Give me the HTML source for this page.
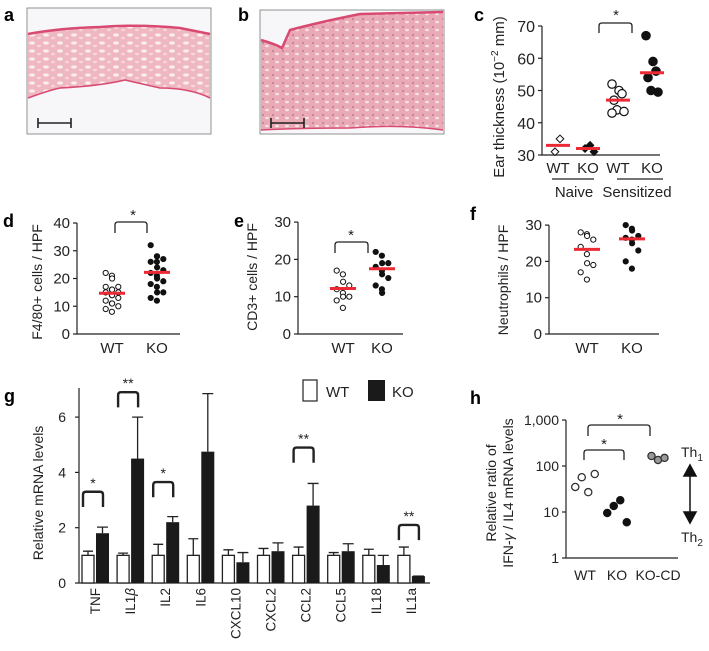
<!DOCTYPE html>
<html><head><meta charset="utf-8">
<style>
html,body{margin:0;padding:0;background:#fff;}
svg{display:block;font-family:"Liberation Sans",Arial,sans-serif;}
</style></head>
<body>
<svg id="fig" width="709" height="651" viewBox="0 0 709 651" xmlns="http://www.w3.org/2000/svg">
<defs>
<pattern id="pinktex" width="14" height="8" patternUnits="userSpaceOnUse">
<rect width="14" height="8" fill="#efb8c0"/>
<ellipse cx="4" cy="3" rx="3" ry="1.6" fill="#fbeef0"/>
<ellipse cx="11" cy="6" rx="2" ry="1.2" fill="#f6d6db"/>
</pattern>
<pattern id="pinktex2" width="10" height="8" patternUnits="userSpaceOnUse">
<rect width="10" height="8" fill="#e9aab6"/>
<circle cx="3" cy="3" r="1" fill="#b87a9a"/>
<ellipse cx="7" cy="6" rx="2" ry="1.2" fill="#f8e2e6"/>
</pattern>
</defs>

<!-- Panel a -->
<text x="4" y="21" font-size="18" font-weight="bold">a</text>
<g>
<rect x="27" y="8" width="184" height="126" fill="#f7f7f9" stroke="#777" stroke-width="0.8"/>
<path d="M28,34 Q60,28 100,27 Q140,24 180,28 L210,34 L210,98 Q190,88 160,88 L125,80 Q100,86 60,88 L28,98 Z" fill="url(#pinktex)"/>
<path d="M28,34 Q60,28 100,27 Q140,24 180,28 L210,34" fill="none" stroke="#d84a72" stroke-width="2.5"/>
<path d="M28,98 Q50,90 60,88 Q100,86 125,80 L160,88 Q190,88 210,98" fill="none" stroke="#d84a72" stroke-width="1.6"/>
<path d="M38,123 L71,123 M38,118 L38,128 M71,118 L71,128" stroke="#222" stroke-width="1.6"/>
</g>

<!-- Panel b -->
<text x="238" y="21" font-size="18" font-weight="bold">b</text>
<g>
<rect x="260" y="10" width="184" height="124" fill="#f7f7f9" stroke="#777" stroke-width="0.8"/>
<path d="M261,40 Q275,44 282,48 L290,30 Q320,22 360,14 L443,12 L443,130 Q400,124 350,128 L261,130 Z" fill="url(#pinktex2)"/>
<path d="M261,40 Q275,44 282,48 L290,30 Q320,22 360,14 L443,12" fill="none" stroke="#d84a72" stroke-width="2.5"/>
<path d="M261,130 Q300,128 350,128 Q400,124 443,130" fill="none" stroke="#d84a72" stroke-width="1.5"/>
<path d="M271,123 L304,123 M271,118 L271,128 M304,118 L304,128" stroke="#222" stroke-width="1.6"/>
</g>

<!-- Panel labels -->
<text x="474" y="21" font-size="18" font-weight="bold">c</text>
<text x="3" y="227" font-size="18" font-weight="bold">d</text>
<text x="234" y="227" font-size="18" font-weight="bold">e</text>
<text x="470" y="220" font-size="18" font-weight="bold">f</text>
<text x="4" y="402" font-size="18" font-weight="bold">g</text>
<text x="470" y="404" font-size="18" font-weight="bold">h</text>

<g id="gc"></g>
<g id="gd"></g>
<g id="ge"></g>
<g id="gf"></g>
<g id="gg"></g>
<g id="gh"></g>
</svg>

<script>
// ---------- data ----------
// panel c
const cCategories = ["WT","KO","WT","KO"];
const cNaiveWT = [35, 31];
const cNaiveKO = [33, 32, 31];
const cSensWT = [52, 50, 49, 47, 44, 43.5, 43];
const cSensKO = [67, 59, 56, 54, 50, 49.5];
const cMeans = [33, 32, 47, 55.5];
const cTicks = [30, 40, 50, 60, 70];
// panel d
const dWT = [22, 21, 20, 17, 17, 16, 16, 15, 15, 14, 14, 13, 12, 11, 11, 10, 9, 8];
const dKO = [32, 28, 28, 27, 26, 26, 24, 23, 22, 21, 20, 19, 18, 17, 15, 15, 13, 12];
const dMeans = [14.7, 22.2];
const dTicks = [0, 10, 20, 30, 40];
// panel e
const eWT = [17, 16, 14, 13, 12, 11, 10, 10, 9, 7];
const eKO = [22, 21, 19, 19, 18, 17, 16, 15, 13, 12, 11];
const eMeans = [12.2, 17.5];
const eTicks = [0, 10, 20, 30];
// panel f
const fWT = [28, 27.5, 27, 26, 24, 22, 19.5, 19, 17, 15];
const fKO = [30, 29, 28.5, 27, 26.5, 26, 25, 23, 20, 18];
const fMeans = [23.3, 26.2];
const fTicks = [0, 10, 20, 30];
// panel g
const gGenes = ["TNF","IL1β","IL2","IL6","CXCL10","CXCL2","CCL2","CCL5","IL18","IL1a"];
const gWT = [1, 1, 1, 1, 1, 1, 1, 1, 1, 1];
const gWTerr = [1.15, 1.08, 1.4, 1.6, 1.2, 1.25, 1.3, 1.1, 1.22, 1.3];
const gKO = [1.8, 4.5, 2.2, 4.75, 0.75, 1.15, 2.8, 1.15, 0.65, 0.25];
const gKOerr = [2.02, 6.0, 2.4, 6.85, 1.1, 1.45, 3.6, 1.42, 1.0, 0.25];
const gSigIndex = [0, 1, 2, 6, 9];
const gSigLabel = ["*", "**", "*", "**", "**"];
const gSigTop = [3.3, 6.9, 3.65, 4.9, 2.1];
const gTicks = [0, 2, 4, 6];
// panel h
const hCategories = ["WT","KO","KO-CD"];
const hWT = [35, 57, 27, 67];
const hKO = [9.5, 13.5, 18, 6];
const hKOCD = [165, 135, 150];
const hTicks = [1, 10, 100, 1000];
const hTickLabels = ["1","10","100","1,000"];

// ---------- helpers ----------
const NS = "http://www.w3.org/2000/svg";
function mk(tag, attrs, parent) {
  const e = document.createElementNS(NS, tag);
  for (const k in attrs) e.setAttribute(k, attrs[k]);
  parent.appendChild(e);
  return e;
}
function txt(parent, x, y, s, size, anchor, extra) {
  const t = mk("text", Object.assign({x: x, y: y, "font-size": size, "text-anchor": anchor || "middle", fill: "#222"}, extra || {}), parent);
  t.textContent = s;
  return t;
}
const RED = "#ec2a34";

// generic scatter panel
function scatterPanel(g, axisX, axisEnd, y0, perUnit, ticks, cats, groups, means, filled, ylabel, ylx, yly, r) {
  const yS = v => y0 - v * perUnit;
  const top = yS(ticks[ticks.length - 1]);
  const ax = mk("path", {d: `M${axisX},${top} L${axisX},${y0} L${axisEnd},${y0}`, fill: "none", stroke: "#222", "stroke-width": 1.2}, g);
  
  
  ticks.forEach(t => {
    const tk = mk("line", {x1: axisX - 4, x2: axisX, y1: yS(t), y2: yS(t), stroke: "#222", "stroke-width": 1.2}, g);
    
    
    const tl = txt(g, axisX - 7, yS(t) + 5, String(t), 15, "end");
    
    
  });
  cats.forEach((c, i) => {
    const cl = txt(g, c.x, y0 + 19, c.label, 15, "middle");
    
    
    groups[i].forEach((v, j) => {
      const jit = ((j % 4) - 1.5) * 3.2 + (j % 2 ? 1.5 : -1.5);
      const p = mk("circle", {cx: c.x + jit, cy: yS(v), r: r, fill: filled[i] ? "#111" : "#fff", stroke: "#111", "stroke-width": 1}, g);
      
      
    });
    const m = mk("line", {x1: c.x - 13, x2: c.x + 13, y1: yS(means[i]), y2: yS(means[i]), stroke: RED, "stroke-width": 3}, g);
    
    
  });
  const yl = txt(g, 0, 0, ylabel, 14, "middle", {transform: `translate(${ylx},${yly}) rotate(-90)`});
  
  
  return yS;
}
function bracket(g, x1, x2, yTop, yLeg, label, sx, sy) {
  const b = mk("path", {d: `M${x1},${yLeg} L${x1},${yTop + 3} Q${x1},${yTop} ${x1 + 3},${yTop} L${x2 - 3},${yTop} Q${x2},${yTop} ${x2},${yTop + 3} L${x2},${yLeg}`, fill: "none", stroke: "#222", "stroke-width": 1.3}, g);
  
  
  const s = txt(g, sx, sy, label, 15, "middle");
  
  
}

// ---------- panel c ----------
(function () {
  const g = document.getElementById("gc");
  const axisX = 542, y30 = 155, per = 3.225;
  const yS = v => y30 - (v - 30) * per;
  const xs = [558, 588, 618, 652];
  const ax = mk("path", {d: `M${axisX},${yS(70)} L${axisX},${y30} L660,${y30}`, fill: "none", stroke: "#222", "stroke-width": 1.2}, g);
  
  
  cTicks.forEach(t => {
    const tk = mk("line", {x1: axisX - 4, x2: axisX, y1: yS(t), y2: yS(t), stroke: "#222", "stroke-width": 1.2}, g);
    
    
    const tl = txt(g, axisX - 7, yS(t) + 6, String(t), 16, "end");
    
    
  });
  cCategories.forEach((c, i) => {
    const cl = txt(g, xs[i], 173, c, 15, "middle");
    
    
  });
  // naive diamonds
  [cNaiveWT, cNaiveKO].forEach((arr, i) => {
    arr.forEach((v, j) => {
      const x = xs[i] + (j % 2 ? -3 : 2) + (j === 2 ? 4 : 0), y = yS(v), s = 3.8;
      const d = mk("path", {d: `M${x},${y - s} L${x + s},${y} L${x},${y + s} L${x - s},${y} Z`, fill: i ? "#111" : "#fff", stroke: "#111", "stroke-width": 1}, g);
      
      
    });
  });
  [cSensWT, cSensKO].forEach((arr, k) => {
    arr.forEach((v, j) => {
      const jit = ((j % 3) - 1) * 5 + (j % 2 ? 1 : -1);
      const p = mk("circle", {cx: xs[k + 2] + jit, cy: yS(v), r: 4.2, fill: k ? "#111" : "#fff", stroke: "#111", "stroke-width": 1.2}, g);
      
      
    });
  });
  cMeans.forEach((m, i) => {
    const l = mk("line", {x1: xs[i] - 12, x2: xs[i] + 12, y1: yS(m), y2: yS(m), stroke: RED, "stroke-width": 3}, g);
    
    
  });
  bracket(g, 599, 632, 23, 33, "*", 616, 20);
  const u1 = mk("line", {x1: 552, x2: 594, y1: 179, y2: 179, stroke: "#222", "stroke-width": 1.2}, g);
  
  
  const u2 = mk("line", {x1: 617, x2: 663, y1: 179, y2: 179, stroke: "#222", "stroke-width": 1.2}, g);
  
  
  const n = txt(g, 574, 197, "Naive", 15, "middle");
  
  
  const s = txt(g, 637, 197, "Sensitized", 15, "middle");
  
  
  const yl = mk("text", {"font-size": 15, "text-anchor": "middle", fill: "#222", transform: "translate(504,97) rotate(-90)"}, g);
  
  
  yl.innerHTML = 'Ear thickness (10<tspan dy="-6" font-size="10">−2</tspan><tspan dy="6"> mm)</tspan>';
})();

// ---------- panels d, e, f ----------
(function () {
  const gd = document.getElementById("gd");
  scatterPanel(gd, 77, 180, 334, 2.775, dTicks, [{x: 112, label: "WT"}, {x: 157, label: "KO"}], [dWT, dKO], dMeans, [false, true], "F4/80+ cells / HPF", 42, 282, 2.6);
  bracket(gd, 115, 147, 222, 233, "*", 133, 220);
  const ge = document.getElementById("ge");
  scatterPanel(ge, 298, 403, 334, 3.73, eTicks, [{x: 343, label: "WT"}, {x: 382, label: "KO"}], [eWT, eKO], eMeans, [false, true], "CD3+ cells / HPF", 257, 277, 2.6);
  bracket(ge, 335, 368, 242, 253, "*", 351, 240);
  const gf = document.getElementById("gf");
  scatterPanel(gf, 549, 659, 334, 3.63, fTicks, [{x: 587, label: "WT"}, {x: 632, label: "KO"}], [fWT, fKO], fMeans, [false, true], "Neutrophils / HPF", 508, 280, 2.6);
})();

// ---------- panel g ----------
(function () {
  const g = document.getElementById("gg");
  const axisX = 79, y0 = 583, per = 27.65;
  const yS = v => y0 - v * per;
  const gx = i => 82 + i * 35.1;
  const ax = mk("path", {d: `M${axisX},388 L${axisX},${y0} L430,${y0}`, fill: "none", stroke: "#222", "stroke-width": 1.2}, g);
  
  
  gTicks.forEach(t => {
    const tk = mk("line", {x1: axisX - 4, x2: axisX, y1: yS(t), y2: yS(t), stroke: "#222", "stroke-width": 1.2}, g);
    
    
    const tl = txt(g, 66, yS(t) + 5, String(t), 14, "end");
    
    
  });
  gGenes.forEach((name, i) => {
    const x = gx(i);
    // WT error + bar
    const e1 = mk("path", {d: `M${x + 6},${yS(gWT[i])} L${x + 6},${yS(gWTerr[i])} M${x + 1},${yS(gWTerr[i])} L${x + 11},${yS(gWTerr[i])}`, stroke: "#222", "stroke-width": 1.3, fill: "none"}, g);
    
    
    const b1 = mk("rect", {x: x, y: yS(gWT[i]), width: 12, height: gWT[i] * per, fill: "#fff", stroke: "#222", "stroke-width": 1.3}, g);
    
    
    const e2 = mk("path", {d: `M${x + 20.5},${yS(gKO[i])} L${x + 20.5},${yS(gKOerr[i])} M${x + 15},${yS(gKOerr[i])} L${x + 26},${yS(gKOerr[i])}`, stroke: "#222", "stroke-width": 1.3, fill: "none"}, g);
    
    
    const b2 = mk("rect", {x: x + 14, y: yS(gKO[i]), width: 13, height: gKO[i] * per, fill: "#1a1a1a"}, g);
    
    
    const lab = mk("text", {"font-size": 13.5, "text-anchor": "end", fill: "#222", transform: `translate(${x + 18},588) rotate(-90)`}, g);
    
    
    if (name === "IL1β") {
      lab.innerHTML = 'IL1<tspan font-style="italic">β</tspan>';
    } else {
      lab.textContent = name;
    }
  });
  gSigIndex.forEach((idx, k) => {
    const x = gx(idx);
    const b = mk("path", {d: `M${x + 1},${yS(gSigTop[k] - 0.55)} L${x + 1},${yS(gSigTop[k]) + 3} Q${x + 1},${yS(gSigTop[k])} ${x + 4},${yS(gSigTop[k])} L${x + 18},${yS(gSigTop[k])} Q${x + 21},${yS(gSigTop[k])} ${x + 21},${yS(gSigTop[k]) + 3} L${x + 21},${yS(gSigTop[k] - 0.55)}`, fill: "none", stroke: "#222", "stroke-width": 2.4}, g);
    
    
    const s = txt(g, x + 11, yS(gSigTop[k]) - 4, gSigLabel[k], 14, "middle");
    
    
  });
  const yl = txt(g, 0, 0, "Relative mRNA levels", 14, "middle", {transform: "translate(43,493) rotate(-90)"});
  
  
  // legend
  const lw = mk("rect", {x: 303, y: 380, width: 14, height: 21, fill: "#fff", stroke: "#222", "stroke-width": 1.2}, g);
  
  
  const lwt = txt(g, 326, 397, "WT", 15, "start");
  
  
  const lk = mk("rect", {x: 368, y: 380, width: 17, height: 21, fill: "#1a1a1a"}, g);
  
  
  const lkt = txt(g, 392, 397, "KO", 15, "start");
  
  
})();

// ---------- panel h ----------
(function () {
  const g = document.getElementById("gh");
  const axisX = 566, y1 = 558, dec = 46;
  const yS = v => y1 - Math.log10(v) * dec;
  const xs = [585, 617, 658];
  const ax = mk("path", {d: `M${axisX},${yS(1000)} L${axisX},${y1} L678,${y1}`, fill: "none", stroke: "#222", "stroke-width": 1.2}, g);
  
  
  hTicks.forEach((t, i) => {
    const tk = mk("line", {x1: axisX - 4, x2: axisX, y1: yS(t), y2: yS(t), stroke: "#222", "stroke-width": 1.2}, g);
    
    
    const tl = txt(g, axisX - 7, yS(t) + 5, hTickLabels[i], 14, "end");
    
    
  });
  hCategories.forEach((c, i) => {
    const cl = txt(g, xs[i], 580, c, 14, "middle");
    
    
  });
  const groups = [hWT, hKO, hKOCD];
  const fills = ["#fff", "#111", "#999"];
  groups.forEach((arr, i) => {
    const n = arr.length;
    arr.forEach((v, j) => {
      const jit = (j - (n - 1) / 2) * 6.5;
      const p = mk("circle", {cx: xs[i] + jit, cy: yS(v), r: 3.6, fill: fills[i], stroke: i === 1 ? "#111" : "#333", "stroke-width": 1.3}, g);
      
      
    });
  });
  bracket(g, 588, 650, 425, 436, "*", 620, 424);
  bracket(g, 584, 624, 450, 460, "*", 604, 449);
  const th1 = mk("text", {x: 681, y: 457, "font-size": 14, fill: "#222"}, g);
  
  
  th1.innerHTML = 'Th<tspan dy="4" font-size="10">1</tspan>';
  const th2 = mk("text", {x: 681, y: 542, "font-size": 14, fill: "#222"}, g);
  
  
  th2.innerHTML = 'Th<tspan dy="4" font-size="10">2</tspan>';
  const arr = mk("path", {d: "M690,474 L690,514 M684,476 L690,465 L696,476 Z M684,512 L690,523 L696,512 Z", stroke: "#111", "stroke-width": 1.5, fill: "#111"}, g);
  
  
  const yl1 = txt(g, 0, 0, "Relative ratio of", 14, "middle", {transform: "translate(496,493) rotate(-90)"});
  
  
  const yl2 = mk("text", {"font-size": 14, "text-anchor": "middle", fill: "#222", transform: "translate(513,493) rotate(-90)"}, g);
  
  
  yl2.innerHTML = 'IFN-<tspan font-style="italic">γ</tspan> / IL4 mRNA levels';
})();
</script>
</body></html>
